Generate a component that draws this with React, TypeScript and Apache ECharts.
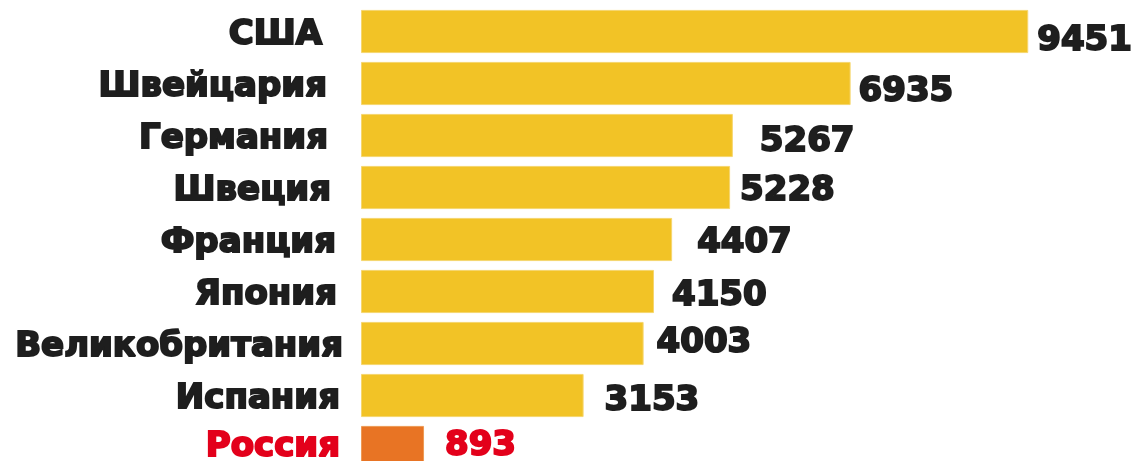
import React, { useEffect, useRef } from "react";
import * as echarts from "echarts";

const countries = ["США", "Швейцария", "Германия", "Швеция", "Франция", "Япония", "Великобритания", "Испания", "Россия"];
const values = [9451, 6935, 5267, 5228, 4407, 4150, 4003, 3153, 893];
const highlight = "Россия";

// label nudges (style only)
const labelNudges = [[9, 6], [8, 5], [27, 3], [10, 0], [25, 0], [18, 1], [13, -4], [21, 2], [21, -5]];
const namePads = [[0, 21, 0, 0], [0, 16, 0, 0], [0, 15, 0, 0], [0, 12, 0, 0], [0, 7, 0, 0], [0, 6, 0, 0], [0, 0, 0, 0], [0, 3, 0, 0], [0, 3, 0, 0]];

const YELLOW = "#F2C326";
const ORANGE = "#E87424";
const RED = "#E3001B";
const DARK = "#1E1E1E";
const FONT = "'DejaVu Sans', sans-serif";

export default function App() {
  const ref = useRef<HTMLDivElement>(null);
  useEffect(() => {
    if (!ref.current) return;
    const chart = echarts.init(ref.current, undefined, { renderer: "svg" });
    chart.setOption({
      animation: false,
      grid: { left: 361, right: 69, top: 5.5, height: 468 },
      xAxis: { type: "value", min: 0, max: 10000, show: false },
      yAxis: {
        type: "category",
        inverse: true,
        data: countries.map((c, i) => {
          const col = c === highlight ? RED : DARK;
          return {
            value: c,
            textStyle: { color: col, textBorderColor: col, textBorderWidth: 2, padding: namePads[i] },
          };
        }),
        axisLine: { show: false },
        axisTick: { show: false },
        axisLabel: {
          margin: 18,
          fontFamily: FONT,
          fontWeight: "bold",
          fontSize: 34,
          formatter: (v: string) => (v === highlight ? "{up|" + v + "}" : v),
          rich: {
            up: {
              color: RED,
              textBorderColor: RED,
              textBorderWidth: 2,
              fontFamily: FONT,
              fontWeight: "bold",
              fontSize: 34,
              lineHeight: 34,
              padding: [0, 0, 7, 0],
            },
          },
        },
      },
      series: [
        {
          type: "bar",
          barCategoryGap: "17%",
          data: values.map((v, i) => {
            const col = countries[i] === highlight ? RED : DARK;
            return {
              value: v,
              itemStyle: {
                color: countries[i] === highlight ? ORANGE : YELLOW,
                borderColor: countries[i] === highlight ? "#EE9A55" : "#F6D66E",
                borderWidth: 1,
              },
              label: {
                show: true,
                position: "right",
                distance: 0,
                offset: labelNudges[i],
                color: col,
                textBorderColor: col,
                textBorderWidth: 2,
                fontFamily: FONT,
                fontWeight: "bold",
                fontSize: 34,
              },
            };
          }),
        },
      ],
    });
    return () => chart.dispose();
  }, []);
  return <div ref={ref} style={{ position: "fixed", left: 0, top: 0, width: 1136, height: 480 }} />;
}
